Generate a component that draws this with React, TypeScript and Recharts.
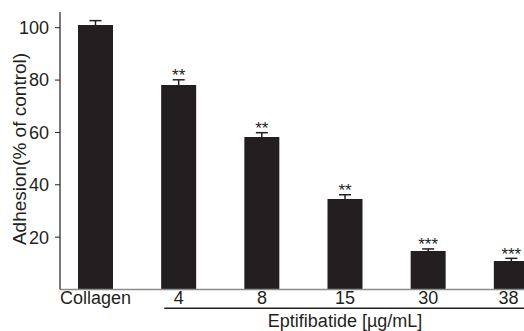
import React from 'react';
import { BarChart, Bar, XAxis, YAxis, ErrorBar, LabelList } from 'recharts';

const categories = ['Collagen', '4', '8', '15', '30', '38'];
const adhesion = [101.0, 78.1, 58.3, 34.6, 14.7, 10.9];
const sem = [1.7, 2.0, 1.6, 1.6, 0.8, 1.0];
const significance = ['', '**', '**', '**', '***', '***'];
const yTicks = [20, 40, 60, 80, 100];
const yLabel = 'Adhesion(% of control)';
const groupLabel = 'Eptifibatide [µg/mL]';

const data = categories.map((c, i) => ({
  category: c,
  adhesion: adhesion[i],
  sem: sem[i],
  stars: significance[i],
}));

const INK = '#231f20';
const PAD_LEFT = -6;
const VISIBLE_W = 516;

const StarLabel = (props: any) => {
  const { x, y, width, height, index } = props;
  if (index == null) return null;
  const s = significance[index];
  if (!s) return null;
  const v = adhesion[index];
  const errTop = y - sem[index] * (height / v);
  return (
    <text x={x + width / 2} y={errTop + 1.5} textAnchor="middle" fontSize={17} fill={INK}>
      {s}
    </text>
  );
};

const XTick = (props: any) => {
  const { x, y, payload } = props;
  const cx = Math.min(x, VISIBLE_W - 15.5);
  return (
    <text x={cx} y={y} dy="0.71em" textAnchor="middle" fontSize={18} fill={INK}>
      {payload.value}
    </text>
  );
};

const GroupLabel = (props: any) => {
  const vb = props.viewBox;
  if (!vb) return null;
  const { x, y, width } = vb;
  const start = x + PAD_LEFT;
  const bw = (width - PAD_LEFT) / categories.length;
  const c1 = start + bw * 1.5;
  const cN = start + bw * (categories.length - 0.5);
  return (
    <g>
      <line x1={c1 - 14.5} x2={start + bw * categories.length} y1={y + 18.8} y2={y + 18.8} stroke={INK} strokeWidth={1.5} />
      <text x={(c1 + cN) / 2} y={y + 37} textAnchor="middle" fontSize={18} fill={INK}>
        {groupLabel}
      </text>
    </g>
  );
};

const YLabel = (props: any) => {
  const vb = props.viewBox;
  if (!vb) return null;
  const x = vb.x + 17.5;
  const y = vb.y + vb.height / 2 - 1.75;
  return (
    <text x={x} y={y} transform={`rotate(-90, ${x}, ${y})`} textAnchor="middle" fontSize={19} fill={INK}>
      {yLabel}
    </text>
  );
};

export default function App() {
  return (
    <div
      style={{
        position: 'absolute',
        left: 8,
        top: 8,
        width: VISIBLE_W,
        height: 323,
        overflow: 'hidden',
        fontFamily: '"Liberation Sans", Arial, sans-serif',
      }}
    >
      <BarChart width={545} height={323} data={data} margin={{ top: 4, right: 0, bottom: 0, left: 0 }}>
        <XAxis
          dataKey="category"
          height={41.5}
          padding={{ left: PAD_LEFT, right: 0 }}
          axisLine={{ stroke: '#8c8c8c', strokeWidth: 1.5 }}
          tickLine={false}
          tickSize={0}
          tickMargin={2}
          interval={0}
          tick={<XTick />}
          label={<GroupLabel />}
        />
        <YAxis
          width={52}
          domain={[0, 106]}
          ticks={yTicks}
          interval={0}
          axisLine={{ stroke: INK, strokeWidth: 1.2 }}
          tickLine={{ stroke: INK, strokeWidth: 1 }}
          tickSize={5}
          tickMargin={6}
          tick={{ fontSize: 18, fill: INK }}
          label={<YLabel />}
        />
        <Bar dataKey="adhesion" fill={INK} barSize={35} isAnimationActive={false}>
          <ErrorBar dataKey="sem" width={6} stroke={INK} strokeWidth={1.5} direction="y" isAnimationActive={false} />
          <LabelList dataKey="stars" content={<StarLabel />} />
        </Bar>
      </BarChart>
    </div>
  );
}
